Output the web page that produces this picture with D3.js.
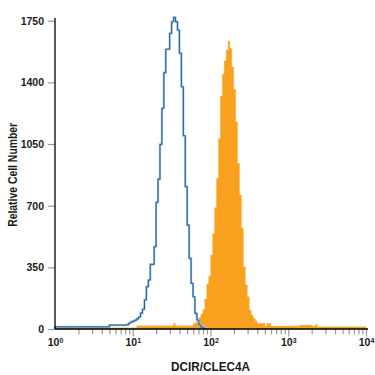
<!DOCTYPE html>
<html>
<head>
<meta charset="utf-8">
<script src="https://cdn.jsdelivr.net/npm/d3@7"></script>
<style>
  html, body { margin: 0; padding: 0; background: #fff; }
  svg { display: block; font-family: "Liberation Sans", Arial, sans-serif; }
</style>
</head>
<body>
<div id="chart"></div>
<script>
// histogram channels: 40 per decade, starting at 10^0
const binsPerDecade = 40;
const xDecades = [0, 1, 2, 3, 4];
const yTicks = [0, 350, 700, 1050, 1400, 1750];
const xTitle = "DCIR/CLEC4A";
const yTitle = "Relative Cell Number";

// isotype control (blue outline), channels 0..77
const isotypeCounts = [
  12, 12, 12, 12, 12, 12, 12, 12, 12, 12, 12, 12, 12, 12,
  12, 12, 12, 12, 12, 12, 12, 12, 12, 12, 12, 12, 12, 12,
  22, 22, 22, 22, 22, 22, 22, 22, 22,
  25, 34, 40, 45, 50, 58, 68, 90, 112, 165, 240, 278, 367, 367,
  467, 719, 851, 1048, 1253, 1455, 1588, 1588, 1678, 1744, 1769, 1744,
  1697, 1565, 1375, 1097, 808, 590, 401, 259, 183, 89, 51, 23, 10, 6, 3
];

// anti-DCIR/CLEC4A stained cells (orange fill), channels 0..159
const stainedCounts = [
  7, 7, 7, 7, 7, 7, 7, 7, 7, 7, 7, 7, 7, 7, 7, 7, 7, 7, 7, 7, 7,
  7, 7, 7, 7, 7, 7, 7, 7, 7, 7, 7, 7, 7, 7, 7, 7, 7, 7, 7, 7, 7,
  18, 18, 18, 18, 18, 18, 18, 18, 18, 18, 18, 18, 18, 18, 18, 18, 18, 18,
  20, 32,
  18, 18, 18, 18, 18, 18, 18, 18, 18,
  30, 36, 50, 65, 85, 110, 170, 255, 300, 420, 540, 690, 855, 1082,
  1323, 1447, 1523, 1584, 1635, 1593, 1489, 1361, 1177, 941, 761, 572,
  354, 250, 183, 108, 79, 61, 47,
  32, 32, 32, 32, 17, 32, 32,
  17, 17, 17, 17, 17, 17, 17, 17, 17, 17, 17, 17, 17, 17, 17,
  23, 23, 23, 23, 23, 23, 17, 17, 25,
  13, 13, 13, 13, 13, 13, 13, 13, 13, 13, 13, 13, 13,
  13, 13, 13, 13, 13, 13, 13, 13, 13, 13, 13, 13
];

(function () {
  const config = {
    width: 375,
    height: 375,
    margin: { left: 55, right: 9, top: 20.7, bottom: 46 },
    textColor: "#1a1a1a",
    tickColor: "#9c9c9c",
    isotypeColor: "#1d5a97",
    isotypeHalo: "#a3c3df",
    stainedColor: "#f7a11f",
  };
  const { width, height, margin, textColor, tickColor } = config;

  const svg = d3.select("#chart")
    .append("svg")
    .attr("width", width)
    .attr("height", height);

  const x = d3.scaleLog()
    .domain([1, 1e4])
    .range([margin.left, width - margin.right]);

  const y = d3.scaleLinear()
    .domain([0, 1750])
    .range([height - margin.bottom, margin.top]);

  // channel k spans 10^(k/bins) .. 10^((k+1)/bins)
  function stepPoints(counts) {
    const pts = counts.map((c, k) => [Math.pow(10, k / binsPerDecade), c]);
    pts.push([Math.pow(10, counts.length / binsPerDecade), counts[counts.length - 1]]);
    return pts;
  }

  // stained histogram, filled
  const area = d3.area()
    .curve(d3.curveStepAfter)
    .x((d) => x(d[0]))
    .y0(y(0))
    .y1((d) => y(d[1]));

  svg.append("path")
    .datum(stepPoints(stainedCounts))
    .attr("d", area)
    .attr("fill", config.stainedColor)
    .attr("stroke", "#fbc878")
    .attr("stroke-width", 0.5);

  // isotype histogram, outline only
  const isoPts = stepPoints(isotypeCounts);
  isoPts.unshift([1, 0]);
  isoPts.push([isoPts[isoPts.length - 1][0], 0]);

  const line = d3.line()
    .curve(d3.curveStepAfter)
    .x((d) => x(d[0]))
    .y((d) => y(d[1]));

  svg.append("path")
    .datum(isoPts)
    .attr("d", line)
    .attr("fill", "none")
    .attr("stroke", config.isotypeHalo)
    .attr("stroke-width", 2.2);

  svg.append("path")
    .datum(isoPts)
    .attr("d", line)
    .attr("fill", "none")
    .attr("stroke", config.isotypeColor)
    .attr("stroke-width", 1);

  // y axis
  const yAxis = svg.append("g")
    .attr("transform", `translate(${margin.left},0)`)
    .call(d3.axisLeft(y).tickValues(yTicks).tickFormat(d3.format("d"))
      .tickSize(7).tickSizeOuter(0).tickPadding(4));
  yAxis.select(".domain").remove();
  yAxis.selectAll(".tick line").attr("stroke", tickColor).attr("stroke-width", 1.2);
  yAxis.selectAll(".tick text")
    .attr("fill", textColor)
    .style("font-size", "10.5px")
    .style("font-weight", "bold");

  // x axis: minor ticks 2..9 in each decade, major ticks at powers of ten
  const minorTicks = d3.range(0, 4).flatMap((e) => d3.range(2, 10).map((m) => m * Math.pow(10, e)));
  const xBase = height - margin.bottom;

  const xMinor = svg.append("g")
    .attr("transform", `translate(0,${xBase})`)
    .call(d3.axisBottom(x).tickValues(minorTicks).tickSize(5.5).tickSizeOuter(0).tickFormat(""));
  xMinor.select(".domain").remove();
  xMinor.selectAll(".tick line").attr("stroke", tickColor).attr("stroke-width", 1.2);

  const xMajor = svg.append("g")
    .attr("transform", `translate(0,${xBase})`)
    .call(d3.axisBottom(x).tickValues(xDecades.map((e) => Math.pow(10, e)))
      .tickSize(7.5).tickSizeOuter(0).tickPadding(2));
  xMajor.select(".domain").remove();
  xMajor.selectAll(".tick line")
    .attr("stroke", tickColor)
    .attr("stroke-width", 1.2)
    .attr("opacity", (d) => (d === 1 ? 0 : 1));

  xMajor.selectAll(".tick text")
    .attr("fill", textColor)
    .style("font-size", "10.5px")
    .style("font-weight", "bold")
    .text(null)
    .each(function (d) {
      const t = d3.select(this);
      t.append("tspan").text("10");
      t.append("tspan")
        .attr("dy", "-0.45em")
        .style("font-size", "7px")
        .text(Math.round(Math.log10(d)));
    });

  // axis lines
  svg.append("line")
    .attr("x1", margin.left).attr("x2", margin.left)
    .attr("y1", y(0)).attr("y2", y(1766))
    .attr("stroke", "#000").attr("stroke-width", 1.3);
  svg.append("line")
    .attr("x1", margin.left).attr("x2", x(1e4) + 2)
    .attr("y1", y(0)).attr("y2", y(0))
    .attr("stroke", "#000").attr("stroke-width", 1.3);

  // titles
  svg.append("text")
    .attr("x", (x(1) + x(1e4)) / 2)
    .attr("y", 370.5)
    .attr("text-anchor", "middle")
    .attr("fill", textColor)
    .style("font-size", "12.5px")
    .style("font-weight", "bold")
    .attr("textLength", 79)
    .attr("lengthAdjust", "spacingAndGlyphs")
    .text(xTitle);

  svg.append("text")
    .attr("transform", `translate(17,${(y(0) + y(1750)) / 2}) rotate(-90)`)
    .attr("text-anchor", "middle")
    .attr("fill", textColor)
    .style("font-size", "13px")
    .style("font-weight", "bold")
    .attr("textLength", 104)
    .attr("lengthAdjust", "spacingAndGlyphs")
    .text(yTitle);
})();
</script>
</body>
</html>
